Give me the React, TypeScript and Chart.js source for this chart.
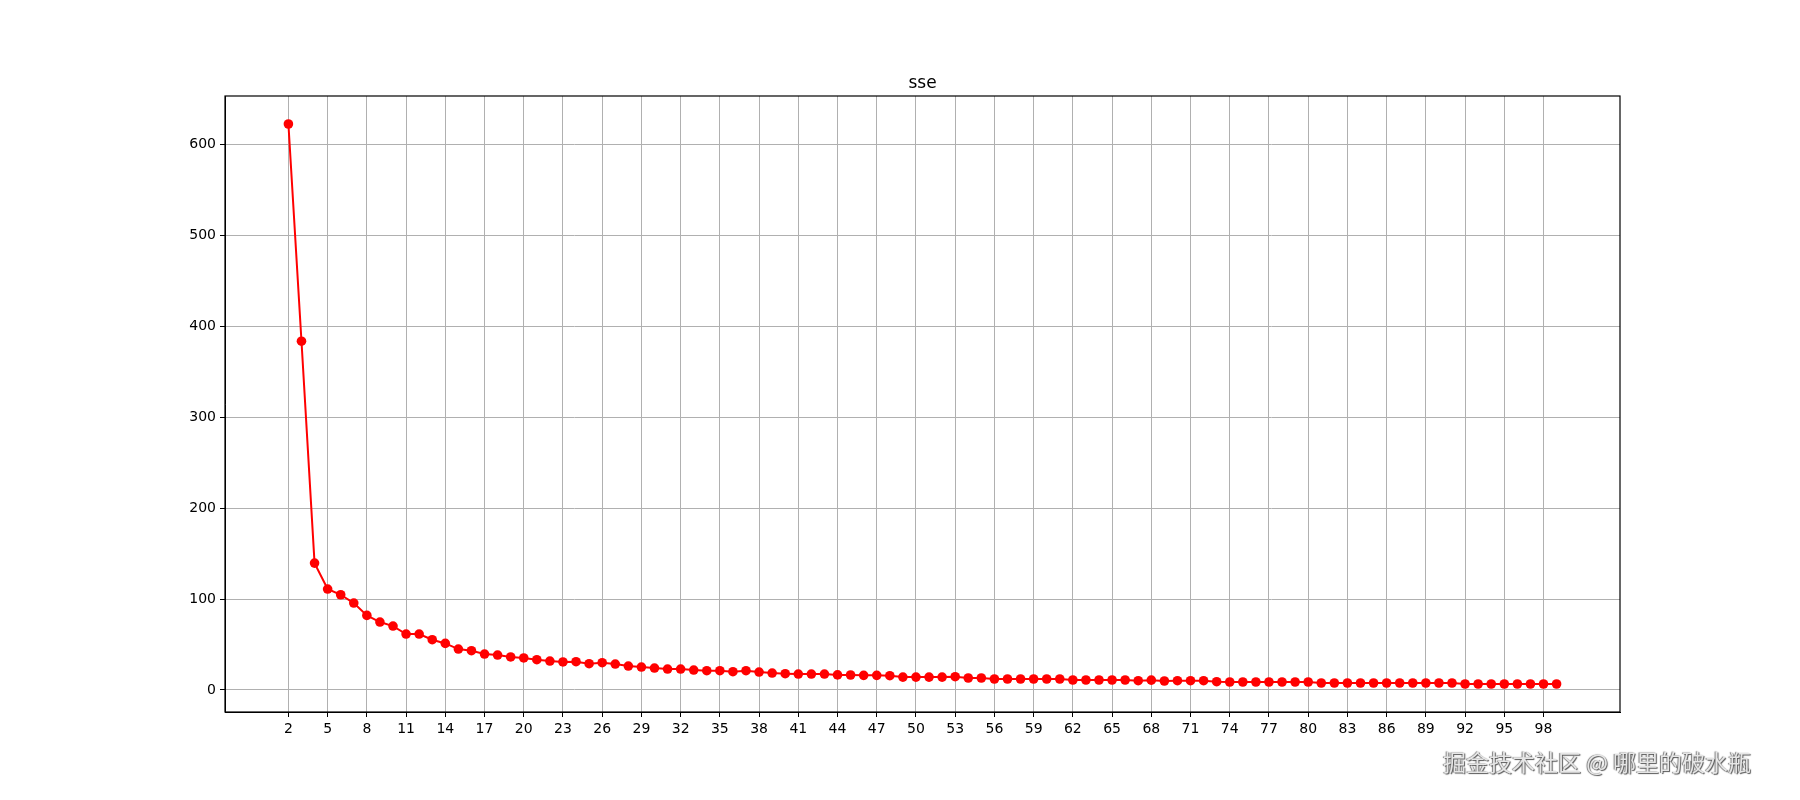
import React, { useEffect, useRef } from "react";
import { Chart, registerables } from "chart.js";

Chart.register(...registerables);

const chartTitle = "sse";
const watermarkText = "掘金技术社区 @ 哪里的破水瓶";

const kValues: number[] = [];
for (let k = 2; k <= 99; k++) kValues.push(k);

const sseValues: number[] = [
  622.3, 383.5, 139.5, 111.0, 104.7, 95.6, 82.0, 74.7, 70.3, 61.5,
  61.5, 55.3, 51.2, 45.0, 43.2, 39.5, 38.4, 36.3, 35.2, 33.3,
  31.8, 30.8, 31.1, 28.9, 30.0, 28.5, 26.3, 25.2, 24.1, 23.0,
  23.0, 21.9, 21.2, 21.2, 20.1, 21.2, 19.7, 18.6, 17.9, 17.5,
  17.5, 17.5, 16.6, 16.5, 16.1, 16.1, 15.7, 14.2, 14.2, 14.2,
  14.2, 14.6, 13.2, 13.2, 12.1, 12.1, 12.1, 12.1, 12.1, 12.1,
  11.0, 11.0, 11.0, 11.0, 11.0, 10.2, 10.8, 9.9, 10.2, 10.2,
  10.2, 9.1, 8.8, 8.8, 8.8, 8.8, 8.8, 8.8, 8.8, 7.7,
  7.7, 7.7, 7.7, 7.7, 7.7, 7.7, 7.7, 7.7, 7.7, 7.7,
  6.6, 6.6, 6.6, 6.6, 6.6, 6.6, 6.6, 6.6,
];

const xTickValues: number[] = [
  2, 5, 8, 11, 14, 17, 20, 23, 26, 29, 32, 35, 38, 41, 44, 47, 50,
  53, 56, 59, 62, 65, 68, 71, 74, 77, 80, 83, 86, 89, 92, 95, 98,
];
const yTickValues: number[] = [0, 100, 200, 300, 400, 500, 600];

const xMin = -2.85;
const xMax = 103.85;
const yMin = -24.2;
const yMax = 653.1;

const FONT = "'DejaVu Sans', sans-serif";

export default function App() {
  const canvasRef = useRef<HTMLCanvasElement | null>(null);

  useEffect(() => {
    const canvas = canvasRef.current;
    if (!canvas) return;

    const framePlugin = {
      id: "frameAndTitle",
      afterDraw(chart: any) {
        const { ctx, chartArea } = chart;
        const { left, top, right, bottom } = chartArea;
        ctx.save();
        ctx.strokeStyle = "#000";
        ctx.lineWidth = 1.2;
        ctx.strokeRect(left, top, right - left, bottom - top);
        ctx.fillStyle = "#000";
        ctx.font = `17px ${FONT}`;
        ctx.textAlign = "center";
        ctx.textBaseline = "alphabetic";
        ctx.fillText(chartTitle, (left + right) / 2, top - 8);
        ctx.restore();
      },
    };

    const chart = new Chart(canvas, {
      type: "line",
      data: {
        datasets: [
          {
            data: kValues.map((k, i) => ({ x: k, y: sseValues[i] })),
            borderColor: "#ff0000",
            backgroundColor: "#ff0000",
            borderWidth: 2,
            pointRadius: 4.8,
            pointBackgroundColor: "#ff0000",
            pointBorderWidth: 0,
            tension: 0,
            clip: false as any,
          },
        ],
      },
      options: {
        animation: false,
        responsive: true,
        maintainAspectRatio: false,
        layout: { padding: { top: 96, right: 180, bottom: 0, left: 0 } },
        plugins: {
          legend: { display: false },
          tooltip: { enabled: false },
          title: { display: false },
        },
        scales: {
          x: {
            type: "linear",
            min: xMin,
            max: xMax,
            afterBuildTicks: (s: any) => {
              s.ticks = xTickValues.map((v) => ({ value: v }));
            },
            afterFit: (s: any) => {
              s.height = 88;
            },
            ticks: {
              autoSkip: false,
              maxRotation: 0,
              color: "#000",
              padding: 4,
              font: { family: FONT, size: 14 },
              callback: (v: any) => String(v),
            },
            grid: {
              color: "#b0b0b0",
              lineWidth: 1,
              tickColor: "#000",
              tickLength: 5,
            },
            border: { color: "#000", width: 1 },
          },
          y: {
            type: "linear",
            min: yMin,
            max: yMax,
            afterBuildTicks: (s: any) => {
              s.ticks = yTickValues.map((v) => ({ value: v }));
            },
            afterFit: (s: any) => {
              s.width = 225;
            },
            ticks: {
              color: "#000",
              padding: 4,
              font: { family: FONT, size: 14 },
              callback: (v: any) => String(v),
            },
            grid: {
              color: "#b0b0b0",
              lineWidth: 1,
              tickColor: "#000",
              tickLength: 5,
            },
            border: { color: "#000", width: 1 },
          },
        },
      },
      plugins: [framePlugin],
    } as any);

    return () => chart.destroy();
  }, []);

  return (
    <div
      style={{
        position: "absolute",
        left: 0,
        top: 0,
        width: 1800,
        height: 800,
        background: "#fff",
      }}
    >
      <canvas ref={canvasRef} />
      <div
        style={{
          position: "absolute",
          left: 1443,
          top: 744,
          fontFamily: "'Noto Sans CJK SC', sans-serif",
          fontSize: 23,
          color: "#e6e6e6",
          whiteSpace: "nowrap",
          textShadow: "1px 1px 1px #555, -1px 0 1px #777",
        }}
      >
        {watermarkText}
      </div>
    </div>
  );
}
